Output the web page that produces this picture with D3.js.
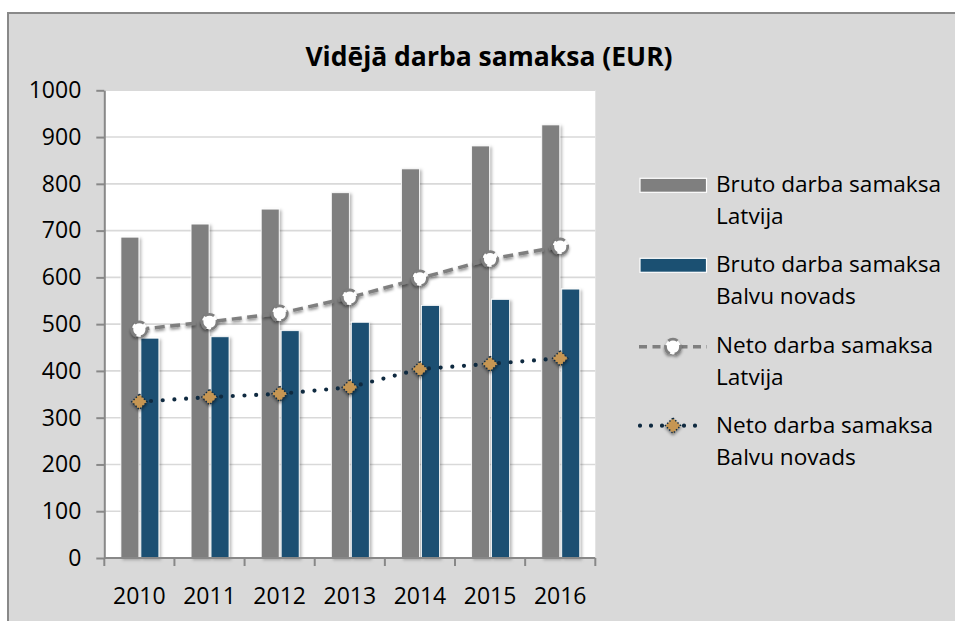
<!DOCTYPE html>
<html>
<head>
<meta charset="utf-8">
<script src="https://cdn.jsdelivr.net/npm/d3@7"></script>
<style>
html,body{margin:0;padding:0;background:#fff;}
svg{display:block;}
text{font-family:"Open Sans",sans-serif;fill:#000;}
</style>
</head>
<body>
<svg id="chart" width="955" height="621"></svg>
<script>
const years = ["2010","2011","2012","2013","2014","2015","2016"];
const brutoLatvija = [686, 714, 746, 781, 832, 881, 926];
const brutoBalvu = [470, 473, 486, 504, 540, 553, 575];
const netoLatvija = [489, 505, 523, 557, 598, 639, 666];
const netoBalvu = [334, 344, 351, 365, 404, 415, 427];
const yTicks = [0,100,200,300,400,500,600,700,800,900,1000];
const title = "Vidējā darba samaksa (EUR)";
const seriesNames = ["Bruto darba samaksa Latvija","Bruto darba samaksa Balvu novads","Neto darba samaksa Latvija","Neto darba samaksa Balvu novads"];

const svg = d3.select("#chart");
const defs = svg.append("defs");
const sh = defs.append("filter").attr("id","shadow").attr("x","-30%").attr("y","-10%").attr("width","180%").attr("height","130%");
sh.append("feDropShadow").attr("dx",2).attr("dy",1.5).attr("stdDeviation",1.6).attr("flood-color","#000").attr("flood-opacity",0.28);
const msh = defs.append("filter").attr("id","mshadow").attr("x","-60%").attr("y","-60%").attr("width","220%").attr("height","220%");
msh.append("feDropShadow").attr("dx",0).attr("dy",2).attr("stdDeviation",1.8).attr("flood-color","#000").attr("flood-opacity",0.45);

// frame
svg.append("rect").attr("x",8).attr("y",13).attr("width",1000).attr("height",1000)
  .attr("fill","#d9d9d9").attr("stroke","#898989").attr("stroke-width",2);

const L = 104.3, R = 595.3, T = 90.3, B = 558;
const x0 = d3.scaleBand().domain(years).range([L,R]).padding(0);
const bw = x0.bandwidth();
const x1 = d3.scaleBand().domain(["lv","bal"]).range([bw*0.237, bw*0.778]).paddingInner(0.1).paddingOuter(0);
const y = d3.scaleLinear().domain([0,1000]).range([B,T]);

// plot area
svg.append("rect").attr("x",L).attr("y",T).attr("width",R-L).attr("height",B-T).attr("fill","#fff");

// gridlines
svg.append("g").selectAll("line").data(yTicks.filter(d=>d>0)).join("line")
  .attr("x1",L).attr("x2",R).attr("y1",d=>y(d)).attr("y2",d=>y(d))
  .attr("stroke","#d9d9d9").attr("stroke-width",1.6);

// bars
const barData = [];
years.forEach((yr,i)=>{
  barData.push({yr, key:"lv", v:brutoLatvija[i], c:"#7f7f7f"});
  barData.push({yr, key:"bal", v:brutoBalvu[i], c:"#1b5072"});
});
svg.append("g").attr("filter","url(#shadow)").selectAll("rect").data(barData).join("rect")
  .attr("x",d=>x0(d.yr)+x1(d.key)).attr("width",x1.bandwidth())
  .attr("y",d=>y(d.v)).attr("height",d=>y(0)-y(d.v))
  .attr("fill",d=>d.c).attr("stroke","#fff").attr("stroke-width",0.8);

// y axis
const yAxis = d3.axisLeft(y).tickValues(yTicks).tickFormat(d3.format("d")).tickSize(8).tickPadding(15).tickSizeOuter(0);
const gy = svg.append("g").attr("transform",`translate(${L},0)`).call(yAxis);
gy.select(".domain").attr("stroke","#888").attr("stroke-width",2);
gy.selectAll(".tick line").attr("stroke","#888").attr("stroke-width",2);
gy.selectAll(".tick text").attr("font-family","Open Sans").attr("font-size",23).attr("fill","#000");

// x axis
const gx = svg.append("g");
gx.append("line").attr("x1",L).attr("x2",R).attr("y1",B).attr("y2",B).attr("stroke","#888").attr("stroke-width",2);
const bounds = years.map(d=>x0(d)).concat([R]);
gx.selectAll("line.t").data(bounds).join("line").attr("class","t")
  .attr("x1",d=>d).attr("x2",d=>d).attr("y1",B).attr("y2",B+8).attr("stroke","#888").attr("stroke-width",2);
gx.selectAll("text").data(years).join("text")
  .attr("x",d=>x0(d)+bw/2).attr("y",604).attr("text-anchor","middle")
  .attr("font-size",23).text(d=>d);

// lines
const cx = d=>x0(d)+bw/2;
const lineLv = d3.line().x((d,i)=>cx(years[i])).y(d=>y(d));
svg.append("path").datum(netoLatvija).attr("d",lineLv).attr("fill","none")
  .attr("stroke","#7f7f7f").attr("stroke-width",3.5).attr("stroke-dasharray","10,5.5").attr("filter","url(#mshadow)");
svg.append("path").datum(netoBalvu).attr("d",lineLv).attr("fill","none")
  .attr("stroke","#0f2a40").attr("stroke-width",4.2).attr("stroke-linecap","round").attr("stroke-dasharray","0,11.7");

// markers Neto Latvija
svg.append("g").attr("filter","url(#mshadow)").selectAll("circle").data(netoLatvija).join("circle")
  .attr("cx",(d,i)=>cx(years[i])).attr("cy",d=>y(d)).attr("r",7.5)
  .attr("fill","#fff").attr("stroke","#7f7f7f").attr("stroke-width",2.8).attr("stroke-dasharray","10,5");
// markers Neto Balvu
const diamond = d3.symbol().type(d3.symbolDiamond2).size(150);
svg.append("g").attr("filter","url(#mshadow)").selectAll("path").data(netoBalvu).join("path")
  .attr("transform",(d,i)=>`translate(${cx(years[i])},${y(d)})`)
  .attr("d",diamond).attr("fill","#c69652").attr("stroke","#0f2a40").attr("stroke-width",1.4).attr("stroke-dasharray","1.4,1.8");

// title
svg.append("text").attr("x",489).attr("y",66).attr("text-anchor","middle")
  .attr("font-weight","bold").attr("font-size",26.5).text(title);

// legend
const leg = svg.append("g");
const legY = [192.3, 272.3, 353.3, 433.3];
const legText = [["Bruto darba samaksa","Latvija"],["Bruto darba samaksa","Balvu novads"],["Neto darba samaksa","Latvija"],["Neto darba samaksa","Balvu novads"]];
legY.forEach((by,i)=>{
  const g = leg.append("g");
  if(i<2){
    g.append("rect").attr("x",640).attr("y",by-14).attr("width",66.5).attr("height",14)
      .attr("fill", i===0?"#7f7f7f":"#1b5072").attr("stroke","#fff").attr("stroke-width",1.2);
  } else if(i===2){
    g.append("line").attr("x1",639).attr("x2",707).attr("y1",by-6.6).attr("y2",by-6.6)
      .attr("stroke","#7f7f7f").attr("stroke-width",3.5).attr("stroke-dasharray","8,5.5");
    g.append("circle").attr("cx",673).attr("cy",by-6.6).attr("r",7.5).attr("fill","#fff")
      .attr("stroke","#7f7f7f").attr("stroke-width",2.8).attr("stroke-dasharray","10,5").attr("filter","url(#mshadow)");
  } else {
    g.append("line").attr("x1",640).attr("x2",705).attr("y1",by-7.6).attr("y2",by-7.6)
      .attr("stroke","#0f2a40").attr("stroke-width",4.2).attr("stroke-linecap","round").attr("stroke-dasharray","0,11");
    g.append("path").attr("transform",`translate(673,${by-7.6})`).attr("d",diamond)
      .attr("fill","#c69652").attr("stroke","#0f2a40").attr("stroke-width",1.4).attr("stroke-dasharray","1.4,1.8").attr("filter","url(#mshadow)");
  }
  g.append("text").attr("x",716).attr("y",by).attr("font-size",22.6).text(legText[i][0]);
  g.append("text").attr("x",716).attr("y",by+32).attr("font-size",22.6).text(legText[i][1]);
});
</script>
</body>
</html>
